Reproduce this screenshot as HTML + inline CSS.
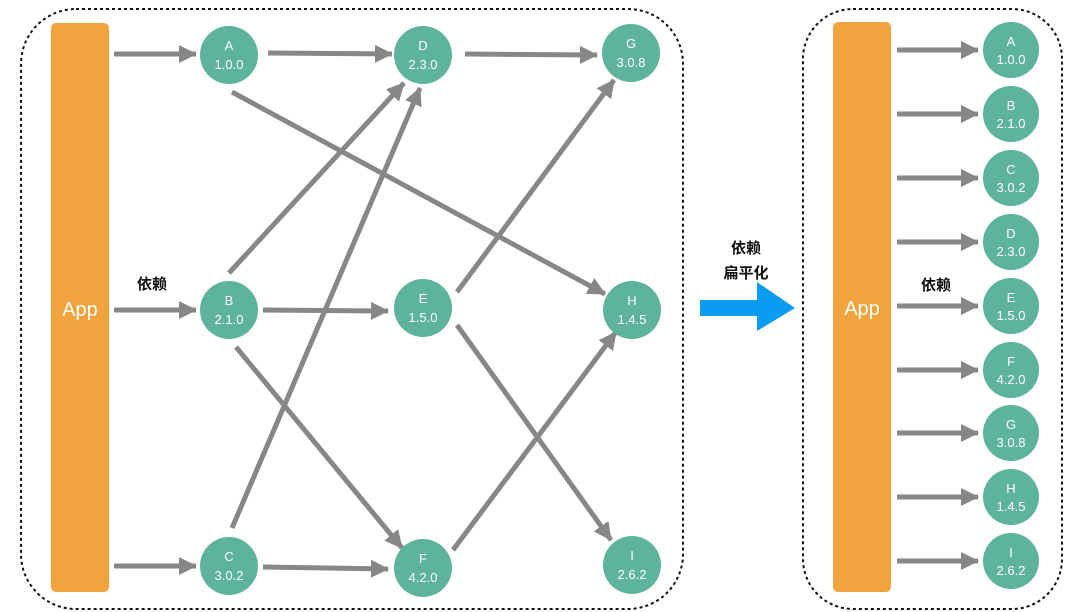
<!DOCTYPE html>
<html><head><meta charset="utf-8"><style>
html,body{margin:0;padding:0;background:#fff;}
svg{display:block;}
.t{font-family:"Liberation Sans",sans-serif;fill:#fff;font-size:13px;text-anchor:middle;}
.c{font-family:"Liberation Sans","Noto Sans CJK SC",sans-serif;font-size:15px;font-weight:bold;fill:#111;text-anchor:middle;}
</style></head><body>
<svg width="1080" height="612" viewBox="0 0 1080 612" xmlns="http://www.w3.org/2000/svg">
<defs>
<marker id="ah" markerUnits="userSpaceOnUse" markerWidth="20" markerHeight="20" refX="17" refY="9" orient="auto">
<path d="M0,0 L18,9 L0,18 Z" fill="#878787"/>
</marker>
</defs>
<rect x="21" y="9" width="662" height="600" rx="55" fill="none" stroke="#111" stroke-width="2" stroke-dasharray="3,3"/>
<rect x="803" y="9" width="259" height="600" rx="50" fill="none" stroke="#111" stroke-width="2" stroke-dasharray="3,3"/>
<rect x="51" y="23" width="58" height="569" rx="5" fill="#f1a43d"/>
<rect x="833" y="22" width="58" height="570" rx="5" fill="#f1a43d"/>
<text x="80" y="316" font-family="Liberation Sans,sans-serif" font-size="20" fill="#fff" text-anchor="middle">App</text>
<text x="862" y="315" font-family="Liberation Sans,sans-serif" font-size="20" fill="#fff" text-anchor="middle">App</text>
<g stroke="#878787" stroke-width="5" marker-end="url(#ah)" fill="none">
<line x1="114" y1="54" x2="196" y2="54"/>
<line x1="268" y1="53" x2="392" y2="54"/>
<line x1="465" y1="54" x2="597" y2="55"/>
<line x1="232" y1="92" x2="605" y2="294"/>
<line x1="229" y1="273" x2="404" y2="83"/>
<line x1="232" y1="528" x2="420" y2="88"/>
<line x1="114" y1="310" x2="196" y2="310"/>
<line x1="263" y1="310" x2="388" y2="311"/>
<line x1="457" y1="292" x2="614" y2="80"/>
<line x1="457" y1="325" x2="611" y2="540"/>
<line x1="236" y1="347" x2="402" y2="548"/>
<line x1="114" y1="566" x2="196" y2="566"/>
<line x1="263" y1="567" x2="388" y2="569"/>
<line x1="453" y1="550" x2="616" y2="332"/>
<line x1="897" y1="50" x2="978" y2="50"/>
<line x1="897" y1="114" x2="978" y2="114"/>
<line x1="897" y1="178" x2="978" y2="178"/>
<line x1="897" y1="242" x2="978" y2="242"/>
<line x1="897" y1="306" x2="978" y2="306"/>
<line x1="897" y1="370" x2="978" y2="370"/>
<line x1="897" y1="433" x2="978" y2="433"/>
<line x1="897" y1="497" x2="978" y2="497"/>
<line x1="897" y1="561" x2="978" y2="561"/>
</g>
<polygon points="700,300 757,300 757,282 795,308 757,331 757,316 700,316" fill="#0a9bf2"/>
<text class="c" x="152" y="289">依赖</text>
<text class="c" x="936" y="290">依赖</text>
<text class="c" x="746" y="253">依赖</text>
<text class="c" x="746" y="278">扁平化</text>
<g fill="#5db39b">
<circle cx="229" cy="55" r="29"/><circle cx="423" cy="55" r="29"/><circle cx="631" cy="53" r="29"/>
<circle cx="229" cy="310" r="29"/><circle cx="423" cy="308" r="29"/><circle cx="632" cy="310" r="29"/>
<circle cx="229" cy="566" r="29"/><circle cx="423" cy="568" r="29"/><circle cx="632" cy="565" r="29"/>
<circle cx="1011" cy="50" r="28"/><circle cx="1011" cy="114" r="28"/><circle cx="1011" cy="178" r="28"/>
<circle cx="1011" cy="242" r="28"/><circle cx="1011" cy="306" r="28"/><circle cx="1011" cy="370" r="28"/>
<circle cx="1011" cy="433" r="28"/><circle cx="1011" cy="497" r="28"/><circle cx="1011" cy="561" r="28"/>
</g>
<g class="t">
<text class="t" x="229" y="50">A</text><text class="t" x="229" y="69">1.0.0</text>
<text class="t" x="423" y="50">D</text><text class="t" x="423" y="69">2.3.0</text>
<text class="t" x="631" y="48">G</text><text class="t" x="631" y="67">3.0.8</text>
<text class="t" x="229" y="305">B</text><text class="t" x="229" y="324">2.1.0</text>
<text class="t" x="423" y="303">E</text><text class="t" x="423" y="322">1.5.0</text>
<text class="t" x="632" y="305">H</text><text class="t" x="632" y="324">1.4.5</text>
<text class="t" x="229" y="561">C</text><text class="t" x="229" y="580">3.0.2</text>
<text class="t" x="423" y="563">F</text><text class="t" x="423" y="582">4.2.0</text>
<text class="t" x="632" y="560">I</text><text class="t" x="632" y="579">2.6.2</text>
<text class="t" x="1011" y="46">A</text><text class="t" x="1011" y="64">1.0.0</text>
<text class="t" x="1011" y="110">B</text><text class="t" x="1011" y="128">2.1.0</text>
<text class="t" x="1011" y="174">C</text><text class="t" x="1011" y="192">3.0.2</text>
<text class="t" x="1011" y="238">D</text><text class="t" x="1011" y="256">2.3.0</text>
<text class="t" x="1011" y="302">E</text><text class="t" x="1011" y="320">1.5.0</text>
<text class="t" x="1011" y="366">F</text><text class="t" x="1011" y="384">4.2.0</text>
<text class="t" x="1011" y="429">G</text><text class="t" x="1011" y="447">3.0.8</text>
<text class="t" x="1011" y="493">H</text><text class="t" x="1011" y="511">1.4.5</text>
<text class="t" x="1011" y="557">I</text><text class="t" x="1011" y="575">2.6.2</text>
</g>
</svg>
</body></html>
